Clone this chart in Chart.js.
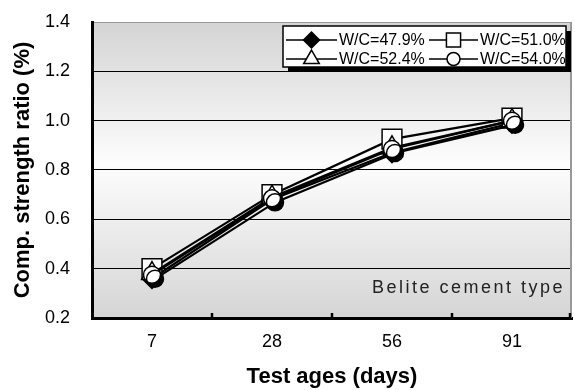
<!DOCTYPE html>
<html>
<head>
<meta charset="utf-8">
<script src="https://cdn.jsdelivr.net/npm/chart.js@4"></script>
<style>
  html, body { margin: 0; padding: 0; background: #fff; }
</style>
</head>
<body>
<canvas id="chart" width="575" height="390"></canvas>
<script>
// --- Datos: relación de resistencia por edad de ensayo ---
const ages = ['7', '28', '56', '91'];
const seriesNames = ['W/C=47.9%', 'W/C=51.0%', 'W/C=52.4%', 'W/C=54.0%'];
const wc479 = [0.36, 0.68, 0.87, 0.99];
const wc510 = [0.40, 0.70, 0.925, 1.01];
const wc524 = [0.38, 0.69, 0.89, 1.00];
const wc540 = [0.375, 0.685, 0.885, 1.00];
const yMin = 0.2, yMax = 1.4, yStep = 0.2;
const noteText = 'Belite cement type';

const FONT = "'Liberation Sans', Arial, sans-serif";

// estilos de marcador por serie (diamante, cuadrado, triángulo, círculo)
const markers = [
    { style: 'rectRot', radius: 10, fill: '#000', legendRadius: 8 },
    { style: 'rect', radius: 14, fill: '#fff', legendRadius: 10 },
    { style: 'triangle', radius: 12, fill: '#fff', legendRadius: 9 },
    { style: 'circle', radius: 8.5, fill: '#fff', legendRadius: 6.5 }
];
const values = [wc479, wc510, wc524, wc540];

const datasets = values.map((v, i) => ({
    label: seriesNames[i],
    data: v,
    borderColor: '#000',
    borderWidth: 2.2,
    pointStyle: markers[i].style,
    pointRadius: markers[i].radius,
    pointBackgroundColor: markers[i].fill,
    pointBorderColor: '#000',
    pointBorderWidth: 1.5,
    order: 4 - i,
    shadow: i === 3
}));

// Fondo degradado, borde derecho y marcas del eje X
const plotDecor = {
    id: 'plotDecor',
    beforeDraw(chart) {
        const { ctx, chartArea: a } = chart;
        const g = ctx.createLinearGradient(0, a.top, 0, a.bottom);
        g.addColorStop(0, '#d4d4d4');
        g.addColorStop(0.48, '#fdfdfd');
        g.addColorStop(1, '#d5d5d5');
        ctx.save();
        ctx.fillStyle = g;
        ctx.fillRect(a.left, a.top, a.right - a.left, a.bottom - a.top);
        ctx.restore();
    },
    beforeDatasetsDraw(chart) {
        const { ctx, chartArea: a, scales } = chart;
        ctx.save();
        ctx.strokeStyle = '#999';
        ctx.lineWidth = 2;
        ctx.beginPath();
        ctx.moveTo(a.right - 1, a.top);
        ctx.lineTo(a.right - 1, a.bottom);
        ctx.stroke();
        // marcas cortas hacia dentro entre categorías
        ctx.strokeStyle = '#000';
        ctx.lineWidth = 2.5;
        const xs = scales.x;
        for (let i = 0; i < ages.length; i++) {
            const x = i < ages.length - 1
                ? (xs.getPixelForValue(i) + xs.getPixelForValue(i + 1)) / 2
                : a.right - 2;
            ctx.beginPath();
            ctx.moveTo(x, a.bottom);
            ctx.lineTo(x, a.bottom - 5);
            ctx.stroke();
        }
        ctx.restore();
    },
    beforeDatasetDraw(chart, args) {
        const ds = chart.data.datasets[args.index];
        if (ds.shadow) {
            const ctx = chart.ctx;
            ctx.save();
            ctx.shadowColor = '#000';
            ctx.shadowOffsetX = 3;
            ctx.shadowOffsetY = 4;
            ctx.shadowBlur = 0;
        }
    },
    afterDatasetDraw(chart, args) {
        const ds = chart.data.datasets[args.index];
        if (ds.shadow) chart.ctx.restore();
    }
};

// Leyenda en recuadro con sombra y texto de nota
const boxLegend = {
    id: 'boxLegend',
    afterDraw(chart) {
        const { ctx, chartArea: a } = chart;
        const bx = 283, by = 26, bw = 283, bh = 41;
        ctx.save();
        ctx.fillStyle = '#000';
        ctx.fillRect(bx + 5, by + 5, bw, bh);
        ctx.fillStyle = '#fff';
        ctx.fillRect(bx, by, bw, bh);
        ctx.strokeStyle = '#000';
        ctx.lineWidth = 1.5;
        ctx.strokeRect(bx, by, bw, bh);

        const cols = [{ l0: 286, l1: 337, tx: 339 }, { l0: 429, l1: 478, tx: 480 }];
        const rows = [40, 59];
        ctx.font = '16px ' + FONT;
        ctx.textBaseline = 'middle';
        ctx.textAlign = 'left';
        chart.data.datasets.forEach((ds, i) => {
            const c = cols[i % 2], y = rows[Math.floor(i / 2)];
            ctx.strokeStyle = '#000';
            ctx.lineWidth = 1.5;
            ctx.beginPath();
            ctx.moveTo(c.l0, y);
            ctx.lineTo(c.l1, y);
            ctx.stroke();
            ctx.fillStyle = markers[i].fill;
            ctx.lineWidth = 1.5;
            Chart.helpers.drawPoint(ctx, {
                pointStyle: markers[i].style,
                radius: markers[i].legendRadius,
                rotation: 0,
                borderWidth: 1.5
            }, (c.l0 + c.l1) / 2, y);
            ctx.fillStyle = '#000';
            ctx.fillText(ds.label, c.tx, y + 1);
        });

        ctx.font = '18px ' + FONT;
        ctx.letterSpacing = '2.5px';
        ctx.fillStyle = '#222';
        ctx.textAlign = 'right';
        ctx.fillText(noteText, a.right - 7, 288);
        ctx.restore();
    }
};

new Chart(document.getElementById('chart'), {
    type: 'line',
    data: { labels: ages, datasets },
    options: {
        responsive: false,
        animation: false,
        layout: { autoPadding: false, padding: { top: 22, right: 3, left: 0, bottom: 0 } },
        plugins: { legend: { display: false }, tooltip: { enabled: false } },
        scales: {
            x: {
                offset: true,
                afterFit(scale) {
                    scale.height = 72;
                    scale.paddingLeft = 0;
                    scale.paddingRight = 0;
                },
                grid: { display: true, drawOnChartArea: false, drawTicks: false, offset: true },
                border: { color: '#000', width: 3 },
                ticks: { color: '#000', font: { family: FONT, size: 18 }, padding: 13 },
                title: {
                    display: true, text: 'Test ages (days)', color: '#000',
                    font: { family: FONT, size: 22, weight: 'bold' },
                    padding: { top: 0, bottom: 0 }
                }
            },
            y: {
                min: yMin, max: yMax,
                afterFit(scale) {
                    scale.width = 92;
                    scale.paddingTop = 0;
                    scale.paddingBottom = 0;
                },
                grid: {
                    drawTicks: false,
                    lineWidth: 1,
                    color: (c) => {
                        if (!c.tick) return '#000';
                        if (Math.abs(c.tick.value - yMax) < 1e-6) return '#999';
                        if (Math.abs(c.tick.value - yMin) < 1e-6) return 'rgba(0,0,0,0)';
                        return '#000';
                    }
                },
                border: { color: '#000', width: 3 },
                ticks: {
                    stepSize: yStep,
                    color: '#000',
                    font: { family: FONT, size: 18 },
                    padding: 22,
                    callback: (v) => Number(v).toFixed(1)
                },
                title: {
                    display: true, text: 'Comp. strength ratio (%)', color: '#000',
                    font: { family: FONT, size: 22, weight: 'bold' },
                    padding: { top: 10, bottom: 0 }
                }
            }
        }
    },
    plugins: [plotDecor, boxLegend]
});
</script>
</body>
</html>
